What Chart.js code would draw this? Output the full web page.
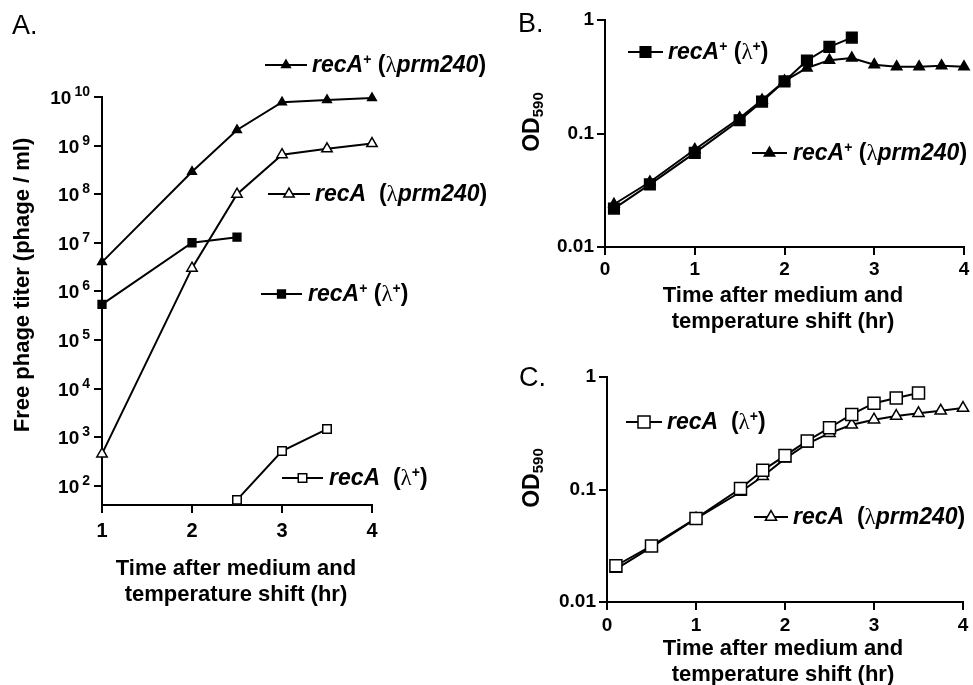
<!DOCTYPE html>
<html>
<head>
<meta charset="utf-8">
<script src="https://cdn.jsdelivr.net/npm/chart.js@4.4.1/dist/chart.umd.min.js"></script>
<style>
  html, body { margin: 0; padding: 0; background: #fff; }
  #fig { position: relative; width: 973px; height: 685px; overflow: hidden; font-family: 'Liberation Sans', Arial, sans-serif; color: #000; }
  .panel { position: absolute; }
  .txt { position: absolute; white-space: nowrap; font-weight: bold; }
  .lg { font-size: 23px; line-height: 23px; }
  .lg i { font-style: italic; }
  .lg sup { font-size: 14px; vertical-align: 8px; line-height: 0; }
  .lam { font-family: 'Liberation Serif', serif; font-weight: normal; font-style: normal; }
  .xt { font-size: 22px; line-height: 26px; text-align: center; width: 320px; }
  .yt { font-size: 22px; line-height: 22px; transform: translate(-50%, -50%) rotate(-90deg); }
  .yt.od { font-size: 23px; }
  .yt sub { font-size: 15px; vertical-align: -4px; line-height: 0; }
  .letter { font-weight: normal; font-size: 27px; line-height: 27px; }
</style>
</head>
<body>
<div id="fig">
  <div class="panel" style="left:0;top:0;width:490px;height:685px"><canvas id="chartA" width="490" height="685"></canvas></div>
  <div class="panel" style="left:490px;top:0;width:483px;height:340px"><canvas id="chartB" width="483" height="340"></canvas></div>
  <div class="panel" style="left:490px;top:340px;width:483px;height:345px"><canvas id="chartC" width="483" height="345"></canvas></div>

  <div class="txt letter" style="left:12px;top:12px">A.</div>
  <div class="txt letter" style="left:518px;top:10px">B.</div>
  <div class="txt letter" style="left:519px;top:364px">C.</div>

  <div class="txt yt" style="left:22px;top:285px">Free phage titer (phage / ml)</div>
  <div class="txt yt od" style="left:531px;top:122px">OD<sub>590</sub></div>
  <div class="txt yt od" style="left:531px;top:478px">OD<sub>590</sub></div>

  <div class="txt xt" style="left:76px;top:555px">Time after medium and<br>temperature shift (hr)</div>
  <div class="txt xt" style="left:623px;top:282px">Time after medium and<br>temperature shift (hr)</div>
  <div class="txt xt" style="left:623px;top:635px">Time after medium and<br>temperature shift (hr)</div>

  <div class="txt lg" style="left:312px;top:53px"><i>recA</i><sup>+</sup> (<span class="lam">λ</span><i>prm240</i>)</div>
  <div class="txt lg" style="left:315px;top:182px"><i>recA</i>&nbsp; (<span class="lam">λ</span><i>prm240</i>)</div>
  <div class="txt lg" style="left:308px;top:282px"><i>recA</i><sup>+</sup> (<span class="lam">λ</span><sup>+</sup>)</div>
  <div class="txt lg" style="left:329px;top:466px"><i>recA</i>&nbsp; (<span class="lam">λ</span><sup>+</sup>)</div>
  <div class="txt lg" style="left:668px;top:40px"><i>recA</i><sup>+</sup> (<span class="lam">λ</span><sup>+</sup>)</div>
  <div class="txt lg" style="left:793px;top:141px"><i>recA</i><sup>+</sup> (<span class="lam">λ</span><i>prm240</i>)</div>
  <div class="txt lg" style="left:667px;top:410px"><i>recA</i>&nbsp; (<span class="lam">λ</span><sup>+</sup>)</div>
  <div class="txt lg" style="left:793px;top:505px"><i>recA</i>&nbsp; (<span class="lam">λ</span><i>prm240</i>)</div>
</div>
<script>
  // Panel A: free phage titer (phage/ml)
  const timeA = [1, 2, 2.5, 3, 3.5, 4];
  const titerRecAPlusPrm = [4.0e6, 2.9e8, 2.1e9, 7.8e9, 8.7e9, 9.5e9];
  const titerRecAPrm = [450, 3.0e6, 1.0e8, 6.5e8, 8.6e8, 1.1e9];
  const timeRecAPlusWt = [1, 2, 2.5];
  const titerRecAPlusWt = [5.4e5, 1.0e7, 1.3e7];
  const timeRecAWt = [2.5, 3, 3.5];
  const titerRecAWt = [51, 515, 1460];
  const decadesA = [1e2, 1e3, 1e4, 1e5, 1e6, 1e7, 1e8, 1e9, 1e10];
  const hoursA = [1, 2, 3, 4];

  // Panels B and C: OD590 growth curves
  const timeOD = [0.1, 0.5, 1, 1.5, 1.75, 2, 2.25, 2.5, 2.75, 3, 3.25, 3.5, 3.75, 4];
  const odBRecAPlusWt = [0.0218, 0.0356, 0.0675, 0.131, 0.191, 0.288, 0.44, 0.58, 0.70];
  const odBRecAPlusPrm = [0.0238, 0.0374, 0.0723, 0.137, 0.197, 0.29, 0.378, 0.443, 0.462, 0.404, 0.387, 0.387, 0.395, 0.387];
  const odCRecAWt = [0.021, 0.0315, 0.0553, 0.102, 0.148, 0.20, 0.27, 0.354, 0.465, 0.585, 0.65, 0.72];
  const odCRecAPrm = [0.0196, 0.0307, 0.055, 0.095, 0.131, 0.188, 0.255, 0.317, 0.376, 0.417, 0.45, 0.476, 0.50, 0.53];
  const odTicks = [0.01, 0.1, 1];
  const hoursOD = [0, 1, 2, 3, 4];

  const FONT = "'Liberation Sans', Arial, sans-serif";

  function series(xs, ys, style, filled, r) {
    return {
      data: ys.map((y, i) => ({ x: xs[i], y: y })),
      borderColor: '#000',
      borderWidth: 2,
      pointStyle: style,
      pointRadius: r,
      pointBackgroundColor: filled ? '#000' : '#fff',
      pointBorderColor: '#000',
      pointBorderWidth: 1.5,
      tension: 0,
      fill: false,
      clip: false
    };
  }

  function drawMarker(c, style, r, x, y, filled) {
    c.beginPath();
    if (style === 'rect') {
      const s = r * Math.SQRT1_2;
      c.rect(x - s, y - s, 2 * s, 2 * s);
    } else {
      let a = 0;
      c.moveTo(x + Math.sin(a) * r, y - Math.cos(a) * r);
      a += 2 * Math.PI / 3;
      c.lineTo(x + Math.sin(a) * r, y - Math.cos(a) * r);
      a += 2 * Math.PI / 3;
      c.lineTo(x + Math.sin(a) * r, y - Math.cos(a) * r);
      c.closePath();
    }
    c.fillStyle = filled ? '#000' : '#fff';
    c.fill();
    c.lineWidth = 1.5;
    c.strokeStyle = '#000';
    c.stroke();
  }

  // line + marker samples next to the labels
  const keyLines = {
    id: 'keyLines',
    afterDraw(chart, args, opts) {
      const c = chart.ctx;
      (opts.items || []).forEach(k => {
        c.save();
        c.strokeStyle = '#000';
        c.lineWidth = 2;
        c.beginPath();
        c.moveTo(k.x1, k.y);
        c.lineTo(k.x2, k.y);
        c.stroke();
        drawMarker(c, k.style, k.r, (k.x1 + k.x2) / 2, k.y, k.filled);
        c.restore();
      });
    }
  };

  // 10^n labels for the log axis of panel A
  const powerLabels = {
    id: 'powerLabels',
    afterDraw(chart, args, opts) {
      if (!opts.on) return;
      const s = chart.scales.y;
      const c = chart.ctx;
      c.save();
      c.fillStyle = '#000';
      c.textAlign = 'right';
      c.textBaseline = 'alphabetic';
      s.ticks.forEach(t => {
        const y = s.getPixelForValue(t.value);
        const exp = String(Math.round(Math.log10(t.value)));
        const xr = s.right - 12;
        c.font = 'bold 14px ' + FONT;
        c.fillText(exp, xr, y - 1);
        const w = c.measureText(exp).width;
        c.font = 'bold 19px ' + FONT;
        c.fillText('10', xr - w - 3, y + 7);
      });
      c.restore();
    }
  };

  function axis(extra) {
    return Object.assign({
      grid: { drawOnChartArea: false, drawTicks: true, tickLength: 8, color: '#000', lineWidth: 2 },
      border: { display: true, color: '#000', width: 2 }
    }, extra);
  }

  function xAxis(min, max, values, h, fontSize, pad) {
    return axis({
      type: 'linear', min: min, max: max,
      afterBuildTicks: s => { s.ticks = values.map(v => ({ value: v })); },
      ticks: { color: '#000', padding: pad, autoSkip: false, maxRotation: 0, font: { family: FONT, size: fontSize, weight: 'bold' } },
      afterFit: s => { s.height = h; s.paddingLeft = 0; s.paddingRight = 0; }
    });
  }

  function yAxis(min, max, values, w, cb) {
    return axis({
      type: 'logarithmic', min: min, max: max,
      afterBuildTicks: s => { s.ticks = values.map(v => ({ value: v })); },
      ticks: { color: '#000', padding: 3, autoSkip: false, callback: cb, font: { family: FONT, size: 19, weight: 'bold' } },
      afterFit: s => { s.width = w; s.paddingTop = 0; s.paddingBottom = 0; }
    });
  }

  function makeChart(id, datasets, scales, padding, items, power) {
    return new Chart(document.getElementById(id), {
      type: 'line',
      data: { datasets: datasets },
      options: {
        responsive: false,
        animation: false,
        devicePixelRatio: 1,
        layout: { padding: padding },
        plugins: {
          legend: { display: false },
          tooltip: { enabled: false },
          keyLines: { items: items },
          powerLabels: { on: power }
        },
        scales: scales
      },
      plugins: [keyLines, powerLabels]
    });
  }

  Chart.defaults.font.family = FONT;

  makeChart('chartA', [
    series(timeA, titerRecAPlusPrm, 'triangle', true, 5),
    series(timeA, titerRecAPrm, 'triangle', false, 6),
    series(timeRecAPlusWt, titerRecAPlusWt, 'rect', true, 5.5),
    series(timeRecAWt, titerRecAWt, 'rect', false, 6)
  ], {
    x: xAxis(1, 4, hoursA, 40, 20, 6),
    y: yAxis(40, 1e10, decadesA, 60, () => '')
  }, { left: 42, right: 118, top: 97, bottom: 140 }, [
    { x1: 265, x2: 307, y: 65, style: 'triangle', filled: true, r: 5 },
    { x1: 268, x2: 310, y: 194, style: 'triangle', filled: false, r: 6 },
    { x1: 261, x2: 302, y: 294, style: 'rect', filled: true, r: 5.5 },
    { x1: 282, x2: 323, y: 478, style: 'rect', filled: false, r: 6 }
  ], true);

  makeChart('chartB', [
    series(timeOD, odBRecAPlusWt, 'rect', true, 7.5),
    series(timeOD, odBRecAPlusPrm, 'triangle', true, 6)
  ], {
    x: xAxis(0, 4, hoursOD, 30, 19, 3),
    y: yAxis(0.01, 1, odTicks, 70, v => String(v))
  }, { left: 45, right: 9, top: 20, bottom: 63 }, [
    { x1: 138, x2: 173, y: 52, style: 'rect', filled: true, r: 7.5 },
    { x1: 262, x2: 297, y: 153, style: 'triangle', filled: true, r: 6 }
  ], false);

  makeChart('chartC', [
    series(timeOD, odCRecAWt, 'rect', false, 8.5),
    series(timeOD, odCRecAPrm, 'triangle', false, 6.5)
  ], {
    x: xAxis(0, 4, hoursOD, 30, 19, 4),
    y: yAxis(0.01, 1, odTicks, 70, v => String(v))
  }, { left: 47, right: 8, top: 37, bottom: 53 }, [
    { x1: 136, x2: 172, y: 82, style: 'rect', filled: false, r: 8.5 },
    { x1: 264, x2: 298, y: 177, style: 'triangle', filled: false, r: 6.5 }
  ], false);
</script>
</body>
</html>
